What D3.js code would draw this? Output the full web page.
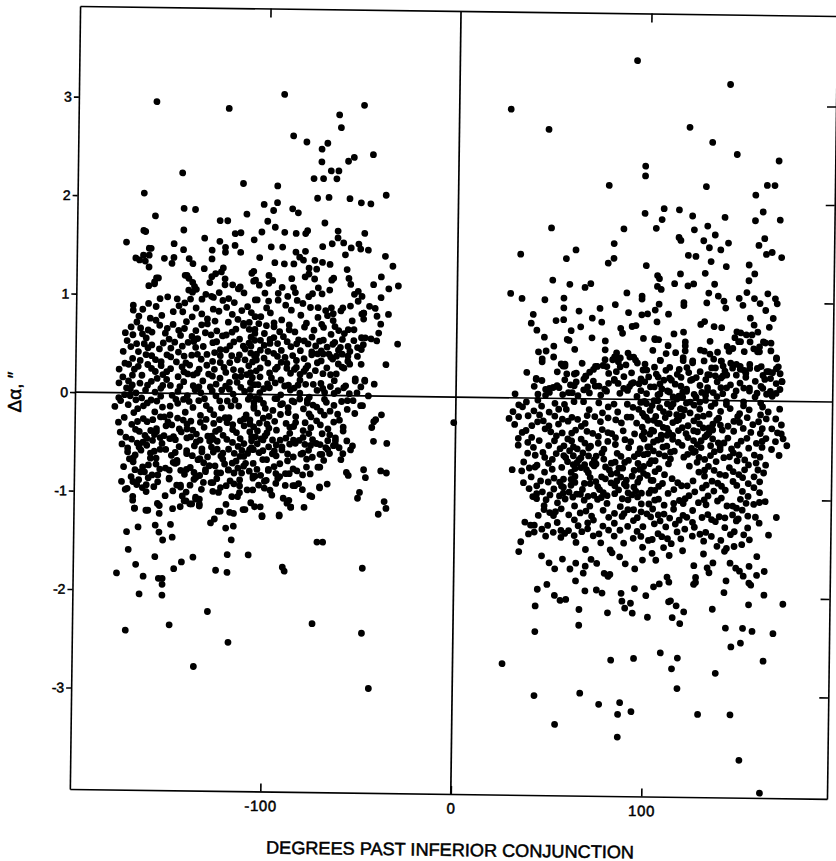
<!DOCTYPE html>
<html>
<head>
  <meta charset="UTF-8">
  <title>Delta alpha vs degrees past inferior conjunction</title>
  <style>
    body { margin: 0; background: #fff; }
    text { font-family: "Liberation Sans", Arial, sans-serif; }
  </style>
</head>
<body>
<svg></svg>
<script src="https://d3js.org/d3.v7.min.js"></script>
<script>
    // ticks
    let xTicks = [-100, 0, 100];
    let xTopTicks = [-100, 100];
    let yTicks = [3, 2, 1, 0, -1, -2, -3];
    let yRightTicks = [3, 2, 1, -1, -2, -3];

    // residuals before inferior conjunction: [degrees, delta alpha in arcsec]
    let westDots = [
      [-159,2.96],[-121,2.90],[-92,3.05],[-50,2.95],[-63,2.85],[-62,2.72],[-87,2.63],[-80,2.57],[-69,2.56],[-72,2.50],
      [-72,2.37],[-55,2.42],[-58,2.38],[-45,2.45],[-67,2.28],[-63,2.28],[-64,2.20],[-76,2.20],[-71,2.20],[-145,2.24],
      [-113,2.14],[-95,2.12],[-165,2.03],[-38,2.04],[-74,2.00],[-68,2.01],[-57,2.00],[-51,1.96],[-46,1.95],[-144,1.88],
      [-138,1.87],[-102,1.93],[-95,1.95],[-97,1.87],[-87,1.89],[-84,1.85],[-111,1.83],[-159,1.80],[-125,1.76],[-121,1.76],
      [-100,1.76],[-70,1.75],[-96,1.70],[-91,1.65],[-85,1.64],[-63,1.67],[-63,1.60],[-79,1.67],[-80,1.64],[-117,1.63],
      [-114,1.64],[-144,1.66],[-165,1.65],[-103,1.65],[-49,1.65],[-174,1.53],[-133,1.58],[-125,1.55],[-149,1.52],[-144,1.46],
      [-129,1.46],[-122,1.49],[-122,1.44],[-117,1.51],[-114,1.44],[-98,1.50],[-92,1.50],[-85,1.45],[-83,1.40],[-80,1.46],
      [-71,1.51],[-66,1.54],[-60,1.55],[-56,1.50],[-51,1.49],[-52,1.54],[-47,1.48],[-38,1.42],[-34,1.32],[-59,1.43],
      [-162,1.47],[-162,1.40],[-165,1.40],[-169,1.37],[-154,1.37],[-149,1.38],[-150,1.32],[-141,1.37],[-139,1.32],[-133,1.27],
      [-129,1.37],[-123,1.28],[-104,1.39],[-96,1.34],[-91,1.33],[-86,1.33],[-81,1.37],[-78,1.29],[-75,1.37],[-74,1.28],
      [-71,1.35],[-67,1.33],[-58,1.28],[-57,1.19],[-56,1.13],[-40,1.21],[-44,1.13],[-36,1.09],[-31,1.12],[-40,1.00],
      [-52,1.06],[-50,1.01],[-66,1.17],[-65,1.19],[-67,1.07],[-158,1.17],[-159,1.13],[-162,1.09],[-143,1.20],[-141,1.17],
      [-138,1.09],[-139,1.03],[-129,1.19],[-127,1.22],[-130,1.13],[-124,1.24],[-129,0.99],[-122,1.11],[-114,1.09],[-112,1.03],
      [-108,1.23],[-106,1.16],[-104,1.11],[-101,1.03],[-99,1.21],[-97,1.16],[-99,1.13],[-92,1.09],[-94,1.03],[-90,0.91],
      [-87,1.18],[-86,1.09],[-85,1.04],[-80,1.20],[-78,1.23],[-75,1.18],[-73,1.09],[-76,1.03],[-71,1.03],[-36,0.83],
      [-31,0.53],[-37,0.32],[-42,0.56],[-45,0.58],[-48,0.59],[-41,0.64],[-40,0.73],[-42,0.81],[-43,0.89],[-46,0.91],
      [-49,0.84],[-53,0.17],[-48,0.16],[-43,0.12],[-46,0.00],[-49,-0.10],[-42,-0.24],[-54,0.56],[-50,0.47],[-56,0.45],
      [-52,0.40],[-50,0.32],[-57,0.50],[-60,0.42],[-57,0.35],[-59,0.28],[-62,0.32],[-65,0.52],[-70,0.56],[-67,0.42],
      [-71,0.45],[-65,0.37],[-65,0.83],[-61,0.86],[-65,0.76],[-69,0.86],[-73,0.89],[-54,1.03],[-52,0.96],[-55,0.76],
      [-57,0.67],[-54,0.67],[-59,0.63],[-49,0.84],[-49,0.78],
      [-164,1.64],[-107,1.57],[-167,1.35],[-164,1.34],[-161,1.47],[-162,1.28],[-157,1.17],[-159,1.11],[-142,1.20],[-139,1.13],
      [-122,1.17],[-118,1.11],[-115,1.07],[-107,1.25],[-107,1.15],
      [-170,0.89],[-162,0.91],[-156,0.96],[-152,0.98],[-147,0.96],[-146,0.89],[-141,1.05],[-137,1.06],[-140,0.96],[-134,0.96],
      [-132,1.01],[-128,0.98],[-125,1.03],[-123,0.95],[-121,0.88],[-117,0.93],[-110,0.89],[-106,0.96],
      [-170,0.84],[-167,0.78],[-161,0.76],[-156,0.69],[-155,0.79],[-149,0.83],[-144,0.83],[-142,0.73],[-139,0.78],[-134,0.81],
      [-131,0.76],[-128,0.86],[-125,0.84],[-120,0.73],[-118,0.81],[-115,0.76],[-109,0.73],[-106,0.79],[-171,0.67],[-162,0.64],
      [-170,0.59],[-163,0.56],[-160,0.49],[-156,0.45],[-152,0.39],[-148,0.52],[-145,0.59],[-141,0.52],[-136,0.56],[-132,0.62],
      [-128,0.52],[-127,0.42],[-123,0.59],[-119,0.49],[-114,0.56],[-111,0.46],[-106,0.62],[-106,0.39],[-175,0.42],[-167,0.42],
      [-163,0.39],[-139,0.39],[-134,0.35],[-118,0.39],
      [-172,0.29],[-169,0.24],[-165,0.18],[-162,0.29],[-158,0.22],[-155,0.32],[-150,0.25],[-147,0.32],[-143,0.22],[-140,0.29],
      [-135,0.25],[-131,0.29],[-128,0.18],[-124,0.32],[-121,0.22],[-117,0.25],[-113,0.18],[-109,0.29],[-172,0.12],
      [-170,0.08],[-168,0.00],[-165,-0.05],[-162,0.08],[-158,0.01],[-154,0.08],[-149,-0.02],[-145,0.07],[-141,-0.02],[-138,0.08],
      [-134,0.01],[-129,0.07],[-126,-0.02],[-121,0.08],[-117,0.00],[-113,0.07],[-108,-0.02],[-174,-0.02],
      [-172,-0.12],[-167,-0.16],[-162,-0.10],[-158,-0.19],[-154,-0.14],[-150,-0.22],[-146,-0.10],[-142,-0.19],[-138,-0.14],[-134,-0.22],
      [-131,-0.12],[-127,-0.21],[-123,-0.14],[-119,-0.24],[-114,-0.12],[-110,-0.21],[-106,-0.14],
      [-170,-0.32],[-166,-0.39],[-162,-0.29],[-157,-0.36],[-153,-0.43],[-149,-0.32],[-144,-0.39],[-141,-0.31],[-136,-0.41],[-132,-0.34],
      [-128,-0.43],[-124,-0.36],[-120,-0.29],[-115,-0.39],[-111,-0.32],[-107,-0.43],
      [-172,-0.56],[-168,-0.63],[-162,-0.53],[-158,-0.59],[-154,-0.51],[-149,-0.63],[-145,-0.54],[-141,-0.61],[-137,-0.53],[-133,-0.59],
      [-128,-0.54],[-123,-0.63],[-119,-0.56],[-114,-0.53],[-111,-0.63],[-107,-0.54],
      [-169,-0.70],[-165,-0.80],[-161,-0.73],[-156,-0.83],[-152,-0.76],[-147,-0.71],[-142,-0.82],[-139,-0.75],[-134,-0.83],[-129,-0.73],
      [-125,-0.80],[-121,-0.71],[-116,-0.80],[-111,-0.73],[-106,-0.83],
      [-172,-0.97],[-167,-0.93],[-162,-1.00],[-156,-0.90],[-152,-1.04],[-146,-0.93],[-141,-1.00],[-136,-1.07],[-132,-0.90],[-127,-0.99],
      [-120,-0.93],[-114,-1.04],[-109,-0.97],
      [-168,-1.17],[-162,-1.19],[-156,-1.12],[-148,-1.17],[-142,-1.09],[-138,-1.12],[-134,-1.14],[-123,-1.19],[-118,-1.20],[-111,-1.17],
      [-107,-1.10],
      [-168,0.50],[-160,0.62],[-151,0.55],[-143,0.66],[-134,0.70],[-126,0.64],[-118,0.63],[-112,0.70],[-103,0.55],[-96,0.58],
      [-88,0.66],[-80,0.55],[-170,0.35],[-162,0.46],[-155,0.28],[-146,0.42],[-137,0.47],[-131,0.40],[-124,0.45],[-114,0.40],
      [-107,0.33],[-99,0.44],[-90,0.38],[-84,0.28],[-76,0.44],[-175,0.16],[-166,0.10],[-157,0.15],[-150,0.08],[-141,0.20],
      [-133,0.13],[-127,0.25],[-119,0.12],[-110,0.20],[-104,0.10],[-95,0.26],[-88,0.10],[-80,0.24],[-70,0.22],[-176,-0.08],
      [-169,-0.20],[-160,-0.07],[-153,-0.24],[-147,-0.06],[-139,-0.28],[-132,-0.05],[-127,-0.30],[-120,-0.07],[-113,-0.27],[-105,-0.04],
      [-99,-0.30],[-92,-0.10],[-84,-0.28],[-78,-0.08],[-68,-0.07],[-173,-0.45],[-164,-0.50],[-155,-0.45],[-146,-0.70],[-139,-0.44],
      [-134,-0.66],[-125,-0.48],[-117,-0.70],[-111,-0.50],[-102,-0.45],[-94,-0.62],[-87,-0.50],[-79,-0.50],[-70,-0.60],[-63,-0.50],
      [-166,-0.88],[-150,-0.86],[-144,-0.95],[-128,-0.90],[-118,-0.88],[-100,-0.95],[-82,-0.90],[-60,-0.65],[-55,-0.55],
      [-172,-0.60],[-169,-0.66],[-170,-0.85],[-169,-0.90],[-173,-0.98],[-169,-1.05],[-169,-1.09],[-168,-1.17],[-161,-1.19],[-155,-1.14],
      [-155,-1.22],[-144,-1.15],[-139,-1.12],[-134,-1.12],[-134,-1.07],[-136,-1.05],[-143,-1.04],[-141,-1.09],[-128,-1.31],[-126,-1.27],
      [-124,-1.19],[-120,-1.12],[-120,-1.36],[-116,-1.34],[-117,-1.48],[-116,-1.21],[-110,-1.17],[-102,-1.14],[-101,-1.24],[-92,-1.23],
      [-90,-1.05],[-88,-1.10],[-86,-1.14],[-79,-1.14],[-75,-1.03],[-71,-0.94],[-72,-1.49],[-69,-1.49],[-50,-0.98],[-51,-1.04],
      [-37,-1.07],[-36,-1.14],[-40,-1.20],[-48,-0.75],[-47,-0.83],[-39,-0.76],[-36,-0.78],[-57,-0.78],[-56,-0.81],[-43,-0.46],
      [-36,-0.48],[-57,-0.46],[-54,-0.51],[-59,-0.59],[-172,-1.41],[-166,-1.36],[-157,-1.34],[-155,-1.41],[-153,-1.49],[-149,-1.33],
      [-148,-1.46],[-171,-1.59],[-167,-1.74],[-157,-1.66],[-163,-1.86],[-155,-1.88],[-153,-1.88],[-153,-1.94],[-177,-1.83],[-165,-2.04],
      [-153,-2.05],[-147,-1.78],[-143,-1.71],[-137,-1.66],[-125,-1.79],[-119,-1.63],[-119,-1.81],[-108,-1.63],[-90,-1.75],[-89,-1.79],
      [-48,-1.75],[-129,-2.21],[-149,-2.35],[-172,-2.41],[-118,-2.52],[-74,-2.32],[-48,-2.41],[-136,-2.77],[-44,-2.97],
      [-167,-0.51],[-162,-0.46],[-157,-0.39],[-152,-0.33],[-148,-0.44],[-141,-0.36],[-136,-0.49],[-133,-0.56],[-127,-0.46],[-122,-0.60],
      [-117,-0.49],[-113,-0.63],[-106,-0.56],[-101,-0.46],[-96,-0.60],[-91,-0.53],[-85,-0.46],[-81,-0.60],[-76,-0.51],[-71,-0.60],
      [-67,-0.55],[-63,-0.46],[-59,-0.36],[-164,-0.75],[-159,-0.83],[-162,-0.93],[-157,-0.66],[-148,-0.70],[-150,-0.87],[-144,-0.93],
      [-141,-0.77],[-136,-0.85],[-131,-0.77],[-127,-0.90],[-123,-0.80],[-119,-0.77],[-113,-0.93],[-112,-0.80],[-106,-0.85],[-100,-0.88],
      [-98,-0.77],[-93,-0.85],[-87,-0.80],[-85,-0.92],[-78,-0.73],[-72,-0.73],[-110,-0.70],[-124,-1.00],[-117,-1.04],[-113,-1.00],
      [-106,-0.97],[-96,-1.02],
      [-78,1.00],[-84,0.96],[-89,1.00],[-94,0.96],[-99,0.95],[-105,0.96],[-66,0.89],[-60,0.89],[-56,0.91],[-50,0.83],
      [-108,0.83],[-103,0.79],[-98,0.83],[-92,0.76],[-87,0.86],[-82,0.81],[-77,0.89],[-73,0.79],[-68,0.81],[-106,0.66],
      [-101,0.62],[-96,0.69],[-91,0.59],[-85,0.64],[-80,0.69],[-76,0.59],[-70,0.69],[-66,0.62],[-62,0.66],[-60,0.57],
      [-50,0.59],[-108,0.49],[-103,0.45],[-98,0.52],[-92,0.45],[-87,0.49],[-82,0.45],[-78,0.52],[-73,0.42],[-68,0.49],
      [-61,0.49],[-57,0.40],[-56,0.32],[-49,0.52],[-52,0.49],[-105,0.35],[-99,0.32],[-94,0.39],[-89,0.32],[-84,0.35],
      [-78,0.30],[-71,0.35],[-66,0.39],[-63,0.22],[-60,0.29],[-64,0.15],[-59,0.08],[-108,0.22],[-103,0.18],[-98,0.22],
      [-92,0.15],[-87,0.22],[-82,0.15],[-77,0.20],[-71,0.12],[-69,0.03],[-64,0.02],[-53,0.15],[-48,0.15],[-52,0.03],
      [-56,0.02],[-108,0.05],[-103,0.02],[-98,0.07],[-92,0.00],[-87,0.05],[-82,0.02],[-77,-0.02],[-73,0.05],[-106,-0.12],
      [-101,-0.09],[-96,-0.16],[-91,-0.09],[-85,-0.07],[-80,-0.14],[-75,-0.10],[-71,-0.16],[-76,-0.22],[-66,-0.16],[-62,-0.19],
      [-57,-0.14],[-50,-0.10],[-39,-0.19],[-43,-0.26],[-44,-0.32],[-108,-0.26],[-103,-0.29],[-98,-0.22],[-94,-0.36],[-89,-0.29],
      [-84,-0.22],[-80,-0.36],[-73,-0.26],[-64,-0.27],[-70,-0.39],[-105,-0.43],[-99,-0.39],[-92,-0.46],[-87,-0.39],[-82,-0.46],
      [-77,-0.39],[-73,-0.49],[-67,-0.46],[-63,-0.43],[-61,-0.53],[-108,-0.56],[-103,-0.59],[-98,-0.53],[-91,-0.56],[-85,-0.63],
      [-80,-0.59],[-75,-0.63],[-71,-0.73],[-66,-0.59],[-106,-0.70],[-101,-0.66],[-98,-0.76],[-92,-0.70],[-89,-0.80],[-85,-0.75],
      [-99,-0.87],[-105,-0.83],[-84,-0.92],[-89,-0.92],[-97,-0.97],[-76,-1.02],[-71,-0.93],[-105,-1.14],[-101,-1.23],[-92,-1.22],
      [-87,-1.07],[-86,-1.14],[-94,-0.80],
      [-168,0.72],[-158,0.74],[-149,0.70],[-131,0.71],[-127,0.74],[-112,0.72],[-165,0.60],[-153,0.61],[-139,0.58],[-121,0.60],
      [-108,0.58],[-171,0.47],[-150,0.46],[-133,0.48],[-121,0.45],[-112,0.49],[-166,0.33],[-158,0.34],[-142,0.31],[-128,0.33],
      [-119,0.32],[-111,0.35],[-170,0.18],[-154,0.19],[-146,0.17],[-138,0.19],[-124,0.16],[-116,0.18],[-107,0.17],[-171,0.04],
      [-163,0.03],[-155,0.05],[-146,0.02],[-137,0.04],[-128,0.03],[-119,0.05],[-111,0.03],[-168,-0.07],[-157,-0.08],[-143,-0.06],
      [-135,-0.07],[-124,-0.07],[-116,-0.06],[-106,-0.08],[-174,-0.25],[-164,-0.26],[-155,-0.24],[-146,-0.25],[-131,-0.26],[-121,-0.24],
      [-111,-0.25],[-168,-0.37],[-160,-0.38],[-145,-0.36],[-138,-0.37],[-126,-0.38],[-117,-0.36],[-104,-0.37],[-170,-0.47],[-159,-0.48],
      [-150,-0.46],[-134,-0.47],[-129,-0.48],[-120,-0.46],[-107,-0.47],[-165,-0.58],[-152,-0.57],[-141,-0.58],[-127,-0.59],[-112,-0.57],
      [-171,-0.67],[-160,-0.66],[-146,-0.68],[-135,-0.67],[-122,-0.66],[-115,-0.68],[-168,-0.78],[-155,-0.77],[-144,-0.78],[-131,-0.79],
      [-119,-0.77],[-108,-0.78],[-161,-0.86],[-137,-0.87],[-125,-0.86],[-113,-0.87],
      [-104,0.72],[-96,0.73],[-88,0.71],[-79,0.73],[-71,0.72],[-106,0.55],[-98,0.56],[-89,0.54],[-83,0.56],[-72,0.55],
      [-64,0.54],[-105,0.41],[-96,0.42],[-86,0.40],[-76,0.41],[-70,0.42],[-103,0.27],[-94,0.28],[-85,0.26],[-79,0.27],
      [-68,0.28],[-106,0.10],[-99,0.11],[-90,0.09],[-83,0.10],[-75,0.11],[-66,0.09],[-58,0.10],[-50,0.09],[-103,-0.05],
      [-95,-0.04],[-86,-0.06],[-78,-0.05],[-69,-0.04],[-60,-0.06],[-54,-0.05],[-104,-0.19],[-92,-0.20],[-88,-0.18],[-77,-0.19],
      [-69,-0.20],[-53,-0.18],[-106,-0.33],[-98,-0.34],[-85,-0.32],[-76,-0.33],[-67,-0.34],[-59,-0.32],[-104,-0.50],[-94,-0.51],
      [-84,-0.49],[-71,-0.50],[-64,-0.51],[-99,-0.66],[-88,-0.67],[-78,-0.65],[-69,-0.66],[-102,-0.82],[-92,-0.83],[-80,-0.81],
      [-165,0.85],[-158,0.88],[-143,0.92],[-137,0.87],[-120,0.97],[-113,0.85],[-100,0.88],[-81,0.93],
      [-174,0.61],[-166,0.66],[-152,0.66],[-146,0.64],[-137,0.64],[-129,0.60],[-116,0.66],[-109,0.66],[-100,0.70],[-93,0.64],
      [-75,0.66],[-64,0.70],[-173,0.53],[-164,0.50],[-154,0.51],[-144,0.48],[-138,0.53],[-126,0.53],[-117,0.53],[-109,0.52],
      [-101,0.50],[-94,0.52],[-84,0.52],[-74,0.50],[-62,0.46],[-174,0.30],[-160,0.38],[-150,0.37],[-143,0.38],[-136,0.40],
      [-124,0.39],[-115,0.35],[-108,0.42],[-101,0.37],[-92,0.33],[-80,0.37],[-73,0.33],[-63,0.40],[-177,0.24],[-167,0.27],
      [-160,0.25],[-152,0.22],[-144,0.27],[-136,0.21],[-130,0.20],[-122,0.27],[-113,0.24],[-105,0.24],[-97,0.17],[-89,0.27],
      [-82,0.21],[-74,0.25],[-66,0.21],[-177,0.10],[-173,0.05],[-160,0.12],[-152,0.14],[-143,0.12],[-135,0.07],[-126,0.10],
      [-123,0.04],[-115,0.12],[-108,0.12],[-101,0.06],[-95,0.12],[-85,0.07],[-79,0.11],[-70,0.07],[-62,0.05],[-179,-0.14],
      [-171,-0.03],[-164,-0.13],[-155,-0.03],[-150,-0.13],[-140,-0.08],[-129,-0.16],[-118,-0.12],[-109,-0.05],[-100,-0.14],[-94,-0.04],
      [-88,-0.13],[-82,-0.04],[-73,-0.12],[-64,-0.10],[-57,-0.05],[-177,-0.30],[-167,-0.29],[-159,-0.27],[-151,-0.29],[-143,-0.27],
      [-134,-0.29],[-124,-0.26],[-117,-0.31],[-108,-0.30],[-101,-0.24],[-95,-0.27],[-87,-0.33],[-79,-0.28],[-71,-0.30],[-61,-0.25],
      [-176,-0.40],[-163,-0.43],[-158,-0.42],[-147,-0.47],[-141,-0.45],[-130,-0.43],[-122,-0.42],[-113,-0.45],[-108,-0.38],[-100,-0.42],
      [-96,-0.46],[-89,-0.44],[-80,-0.43],[-75,-0.45],[-66,-0.40],[-175,-0.52],[-166,-0.55],[-160,-0.61],[-155,-0.57],[-147,-0.60],
      [-138,-0.63],[-130,-0.64],[-125,-0.56],[-116,-0.60],[-109,-0.60],[-101,-0.57],[-95,-0.57],[-88,-0.60],[-77,-0.56],[-68,-0.53],
      [-174,-0.75],[-163,-0.80],[-157,-0.72],[-150,-0.78],[-137,-0.80],[-132,-0.70],[-126,-0.73],[-114,-0.75],[-104,-0.76],[-95,-0.73],
      [-83,-0.77],[-76,-0.80],[-175,-0.90],[-164,-0.96],[-158,-0.95],[-148,-0.99],[-139,-0.93],[-133,-0.97],[-123,-0.95],[-116,-0.91],
      [-103,-0.92],[-94,-0.90],[-80,-0.96],[-67,-0.90],
      [-177,-0.05],[-1,-0.26]
    ];

    // residuals after inferior conjunction
    let eastDots = [
      [27,2.93],[47,2.73],[93,3.44],[142,3.21],[121,2.77],[133,2.62],[146,2.50],[168,2.44],[98,2.37],[98,2.27],
      [79,2.17],[130,2.17],[156,2.09],[162,2.19],[166,2.19],[49,1.73],[98,1.89],[108,1.94],[107,1.83],[104,1.74],
      [116,1.93],[123,1.87],[124,1.73],[131,1.77],[135,1.68],[140,1.86],[142,1.60],[129,1.62],[132,1.55],[138,1.53],
      [116,1.65],[117,1.62],[87,1.73],[82,1.58],[82,1.43],[79,1.38],[156,1.83],[160,1.92],[169,1.84],[161,1.65],
      [158,1.58],[162,1.49],[165,1.51],[170,1.46],[153,1.38],[156,1.29],[153,1.22],[152,1.10],[33,1.46],[57,1.42],
      [62,1.51],[50,1.20],[59,1.16],[67,1.13],[70,1.17],[99,1.36],[105,1.26],[106,1.23],[105,1.15],[107,1.12],
      [114,1.18],[117,1.28],[121,1.16],[124,1.18],[125,1.46],[121,1.47],[130,1.29],[135,1.18],[141,1.36],[133,1.41],
      [28,1.06],[34,1.01],[46,1.00],[56,1.02],[89,1.08],[83,0.96],[97,1.05],[97,1.02],[132,1.09],[137,1.06],
      [140,1.01],[141,0.94],[148,1.04],[150,0.97],[163,1.09],[167,1.04],[168,0.99],[159,0.99],[162,0.92],[156,1.04],
      [106,0.97],[104,0.91],[111,0.87],[119,0.99],[119,0.96],[131,0.99],[40,0.85],[39,0.76],[56,0.92],[64,0.89],
      [71,0.82],[75,0.92],[76,0.78],[90,0.88],[97,0.86],[100,0.87],[52,0.79],[56,0.80],[65,0.73],[60,0.69],
      [86,0.72],[87,0.67],[92,0.74],[94,0.75],[105,0.79],[114,0.67],[119,0.69],[130,0.80],[128,0.77],[135,0.75],
      [139,0.74],[147,0.70],[149,0.69],[146,0.64],[154,0.84],[156,0.77],[158,0.70],[155,0.67],[152,0.67],[164,0.75],
      [166,0.84],[42,0.69],[46,0.62],[71,0.62],[78,0.59],[98,0.62],[104,0.61],[106,0.61],[120,0.59],[120,0.55],
      [133,0.60],[142,0.55],[145,0.53],[149,0.60],[151,0.50],[156,0.53],[159,0.50],[161,0.60],[165,0.59],[168,0.44],
      [43,0.47],[47,0.48],[51,0.53],[51,0.42],[45,0.37],[58,0.60],[59,0.59],[62,0.50],[57,0.35],[56,0.33],
      [37,0.26],[42,0.19],[53,0.27],[47,0.09],[51,0.11],[53,0.13],[31,0.04],[62,0.25],[62,0.13],[67,0.20],
      [68,0.23],[73,0.13],[72,0.30],[74,0.33],[78,0.40],[79,0.33],[83,0.43],[85,0.38],[86,0.42],[90,0.47],
      [93,0.43],[95,0.37],[84,0.28],[88,0.23],[80,0.16],[83,0.20],[92,0.16],[97,0.21],[100,0.30],[104,0.33],
      [107,0.40],[110,0.47],[102,0.13],[107,0.16],[112,0.22],[116,0.26],[119,0.40],[121,0.33],[124,0.38],[130,0.50],
      [133,0.47],[135,0.42],[123,0.20],[126,0.23],[132,0.26],[134,0.33],[139,0.40],[140,0.35],[145,0.33],[147,0.37],
      [139,0.23],[142,0.26],[149,0.32],[152,0.28],[154,0.37],[158,0.33],[161,0.26],[163,0.30],[165,0.23],[168,0.33],
      [170,0.28],[171,0.20],[168,0.08],[132,0.13],[135,0.08],[142,0.13],[147,0.10],[154,0.13],[158,0.08],[161,0.13],
      [76,0.04],[79,0.08],[86,0.06],[90,0.09],[95,0.03],[100,0.06],[107,0.06],[111,0.09],[114,0.03],[119,0.08],
      [125,0.06],[121,0.09],[56,0.04],[61,0.06],[70,0.06],[67,0.09],[49,0.06],
      [45,0.40],[57,0.33],[63,0.26],[68,0.23],[73,0.33],[78,0.50],[84,0.47],[82,0.40],[86,0.33],[91,0.43],
      [94,0.40],[98,0.30],[101,0.23],[96,0.16],[91,0.13],[85,0.16],[75,0.13],[64,0.03],[59,0.06],[54,0.11],
      [49,0.10],[42,0.20],[47,0.03],[43,0.04],
      [148,0.60],[154,0.60],[159,0.55],[162,0.59],[158,0.50],[168,0.43],[169,0.35],[164,0.30],[160,0.35],[154,0.33],
      [149,0.35],[144,0.38],[139,0.40],[136,0.33],[133,0.26],[130,0.40],[124,0.40],[119,0.43],[115,0.48],[111,0.55],
      [104,0.62],[103,0.50],[107,0.40],[112,0.33],[105,0.26],[118,0.23],[124,0.21],[128,0.15],[121,0.11],[115,0.16],
      [109,0.20],[104,0.13],[112,0.08],[119,0.03],[126,0.03],[132,0.10],[139,0.13],[144,0.16],[149,0.18],[154,0.10],
      [160,0.15],[165,0.10],[168,0.18],[171,0.20],[140,0.25],[147,0.26],[104,-0.01],[114,-0.04],[128,-0.02],[142,-0.01],
      [151,-0.01],[160,-0.02],
      [28,-0.21],[30,-0.14],[35,-0.09],[38,-0.18],[41,-0.13],[45,-0.08],[49,-0.14],[43,-0.24],[49,-0.28],[54,-0.11],
      [56,-0.21],[58,-0.11],[64,-0.21],[70,-0.11],[73,-0.18],[77,-0.14],[80,-0.08],[85,-0.13],[87,-0.24],[77,-0.31],
      [82,-0.35],[66,-0.28],[72,-0.35],[61,-0.35],[56,-0.35],[47,-0.31],[40,-0.28],[35,-0.35],[33,-0.41],[38,-0.45],
      [44,-0.43],[49,-0.48],[52,-0.43],[57,-0.48],[61,-0.43],[64,-0.51],[68,-0.45],[71,-0.48],[75,-0.45],[80,-0.43],
      [84,-0.46],[89,-0.41],[94,-0.35],[98,-0.28],[101,-0.21],[103,-0.31],[92,-0.18],[98,-0.14],
      [33,-0.48],[42,-0.58],[46,-0.55],[51,-0.62],[57,-0.58],[62,-0.58],[65,-0.62],[70,-0.58],[73,-0.62],[77,-0.55],
      [82,-0.65],[87,-0.58],[91,-0.62],[96,-0.55],[101,-0.48],[103,-0.62],[99,-0.68],
      [30,-0.73],[35,-0.74],[42,-0.70],[47,-0.75],[43,-0.68],[56,-0.70],[61,-0.75],[57,-0.82],[66,-0.70],[70,-0.75],
      [73,-0.68],[77,-0.79],[81,-0.72],[85,-0.75],[90,-0.82],[94,-0.72],[99,-0.75],[103,-0.82],
      [39,-0.92],[43,-0.89],[46,-0.95],[49,-0.85],[52,-0.92],[56,-0.89],[60,-0.95],[63,-0.85],[67,-0.92],[70,-0.99],
      [75,-0.89],[78,-0.95],[82,-0.85],[86,-0.92],[91,-0.95],[94,-0.89],[98,-0.95],[103,-0.92],
      [43,-1.02],[47,-1.09],[50,-1.16],[54,-1.06],[58,-1.02],[63,-1.09],[66,-1.16],[71,-1.09],[75,-1.02],[80,-1.06],
      [84,-1.16],[87,-1.09],[91,-1.02],[94,-1.12],[98,-1.06],[101,-1.16],
      [37,-1.26],[40,-1.29],[42,-1.29],[49,-1.29],[52,-1.19],[54,-1.26],[56,-1.34],[63,-1.23],[65,-1.29],[70,-1.26],
      [73,-1.23],[78,-1.29],[84,-1.26],[88,-1.19],[91,-1.29],[94,-1.23],[99,-1.29],[103,-1.19],
      [35,-1.46],[34,-1.56],[42,-1.36],[52,-1.36],[56,-1.41],[63,-1.39],[64,-1.46],[69,-1.53],[73,-1.39],[77,-1.46],
      [82,-1.53],[84,-1.39],[89,-1.46],[94,-1.41],[99,-1.50],[102,-1.43],
      [46,-1.60],[50,-1.67],[53,-1.73],[57,-1.63],[61,-1.73],[64,-1.67],[69,-1.70],[72,-1.63],[75,-1.67],[79,-1.77],
      [83,-1.56],[87,-1.60],[90,-1.67],[95,-1.72],[99,-1.63],[104,-1.56],
      [44,-1.94],[49,-1.89],[53,-2.00],[64,-1.85],[69,-1.95],[75,-1.94],[78,-1.97],[82,-1.78],[88,-1.97],[95,-1.92],
      [101,-1.99],
      [102,-0.11],[107,-0.08],[112,-0.14],[118,-0.09],[123,-0.13],[128,-0.09],[133,-0.14],[139,-0.11],[144,-0.08],[149,-0.13],
      [154,-0.09],[160,-0.14],[164,-0.11],[168,-0.18],[171,-0.33],[174,-0.45],[168,-0.41],
      [104,-0.21],[109,-0.28],[114,-0.23],[119,-0.28],[125,-0.21],[130,-0.28],[135,-0.24],[140,-0.30],[146,-0.21],[151,-0.28],
      [156,-0.24],[161,-0.28],[166,-0.28],
      [102,-0.35],[106,-0.41],[111,-0.36],[117,-0.43],[122,-0.38],[127,-0.45],[132,-0.35],[138,-0.43],[143,-0.38],[148,-0.45],
      [153,-0.38],[158,-0.43],[163,-0.38],
      [104,-0.52],[110,-0.57],[115,-0.52],[120,-0.58],[125,-0.53],[131,-0.60],[136,-0.52],[141,-0.58],[146,-0.53],[152,-0.60],
      [157,-0.55],[163,-0.65],[159,-0.70],
      [102,-0.65],[107,-0.70],[112,-0.65],[123,-0.67],[128,-0.73],[133,-0.67],[139,-0.75],[144,-0.68],[149,-0.75],
      [154,-0.65],
      [104,-0.82],[109,-0.85],[114,-0.80],[119,-0.87],[125,-0.82],[130,-0.89],[135,-0.82],[140,-0.87],[146,-0.82],[151,-0.92],
      [154,-0.84],[160,-0.82],
      [102,-0.95],[107,-1.01],[112,-0.95],[118,-1.02],[123,-0.97],[128,-1.04],[133,-0.97],[138,-1.02],[143,-1.07],[148,-1.09],
      [153,-1.04],[154,-0.97],[163,-1.02],
      [104,-1.11],[110,-1.16],[115,-1.11],[120,-1.17],[125,-1.12],[130,-1.19],[135,-1.21],[142,-1.19],[146,-1.16],[151,-1.11],
      [154,-1.17],[169,-1.18],
      [105,-1.26],[111,-1.29],[116,-1.26],[121,-1.31],[126,-1.29],[132,-1.34],[142,-1.29],[147,-1.33],[154,-1.29],[165,-1.36],
      [109,-1.39],[114,-1.46],[119,-1.41],[125,-1.38],[129,-1.36],[138,-1.48],[143,-1.50],[147,-1.48],[151,-1.46],[110,-1.50],
      [106,-1.63],[113,-1.58],[120,-1.53],[126,-1.68],[131,-1.56],[136,-1.65],[145,-1.65],[148,-1.70],[155,-1.68],[159,-1.58],
      [163,-1.73],[112,-1.80],[113,-1.85],[127,-1.85],[134,-1.75],[143,-1.83],[142,-1.95],[155,-1.85],[163,-1.97],
      [156,-1.87],[142,-1.53],[150,-1.73],[152,-1.78],[159,-1.77],[127,-1.80],[126,-1.87],[133,-1.70],[114,-2.04],[105,-1.90],
      [108,-1.87],[81,-1.80],[56,-2.05],[59,-2.04],[68,-1.77],
      [43,-2.11],[66,-2.14],[81,-2.17],[88.5,-2.05],[93,-2.07],[90,-2.12],[94,-2.17],[102,-2.21],[113,-2.05],[117,-2.09],
      [121,-2.15],[115,-2.21],[119,-2.27],[136,-2.12],[155,-2.07],[173,-2.06],[43,-2.37],[66,-2.30],[143,-2.31],[152,-2.31],
      [157,-2.34],[168,-2.36],[146,-2.50],[151,-2.46],[26,-2.70],[83,-2.65],[95,-2.63],[109,-2.57],[118,-2.62],[115,-2.73],
      [138,-2.77],[163,-2.64],[118,-2.93],[43,-3.02],[67,-2.99],[77,-3.10],[88,-3.08],[87,-3.20],[94,-3.17],[129,-3.19],
      [146,-3.19],[54,-3.31],[87,-3.43],[151,-3.65],[162,-3.98],
      [37,-0.04],[52,-0.05],[62,-0.03],[75,-0.04],[90,-0.05],[97,-0.03],[33,-0.19],[44,-0.17],[52,-0.18],[61,-0.19],
      [69,-0.17],[80,-0.19],[90,-0.18],[99,-0.17],[37,-0.33],[50,-0.34],[63,-0.32],[69,-0.33],[80,-0.34],[88,-0.32],
      [99,-0.33],[41,-0.50],[55,-0.51],[62,-0.49],[70,-0.50],[78,-0.51],[91,-0.49],[97,-0.50],[36,-0.65],[49,-0.66],
      [59,-0.64],[64,-0.65],[72,-0.66],[84,-0.64],[96,-0.65],[40,-0.80],[52,-0.81],[63,-0.79],[71,-0.80],[79,-0.81],
      [87,-0.79],[97,-0.80],[43,-0.97],[50,-0.98],[57,-0.96],[64,-0.97],[73,-0.98],[84,-0.96],[93,-0.97],[47,-1.13],
      [56,-1.12],[69,-1.14],[78,-1.13],[91,-1.12],[98,-1.14],[46,-1.33],[60,-1.34],[70,-1.32],[81,-1.33],[96,-1.34],
      [55,0.35],[66,0.36],[77,0.34],[89,0.35],[99,0.36],[45,0.18],[57,0.19],[63,0.17],[72,0.18],[83,0.19],
      [93,0.17],[99,0.18],
      [106,0.05],[117,0.04],[131,0.05],[137,0.04],[146,0.05],[157,0.04],[166,0.05],[105,-0.17],[110,-0.18],[119,-0.16],
      [127,-0.17],[138,-0.18],[148,-0.16],[153,-0.17],[163,-0.18],[104,-0.32],[112,-0.33],[117,-0.31],[127,-0.32],[133,-0.33],
      [146,-0.31],[155,-0.32],[160,-0.33],[169,-0.32],[102,-0.48],[111,-0.47],[124,-0.49],[129,-0.48],[139,-0.47],[145,-0.49],
      [154,-0.48],[161,-0.47],[166,-0.49],[105,-0.62],[127,-0.63],[137,-0.62],[148,-0.61],[158,-0.63],[101,-0.77],
      [110,-0.76],[131,-0.77],[142,-0.76],[151,-0.78],[157,-0.77],[105,-0.92],[115,-0.91],[126,-0.93],[136,-0.92],
      [142,-0.91],[160,-0.93],[102,-1.06],[110,-1.07],[120,-1.05],[132,-1.06],[146,-1.07],[157,-1.05],[108,-1.23],[118,-1.22],
      [125,-1.24],[137,-1.23],[148,-1.22],[160,-1.24],[104,-1.42],[112,-1.41],[131,-1.43],[140,-1.42],[155,-1.41],
      [120,0.50],[128,0.51],[137,0.49],[143,0.50],[165,0.51],[110,0.30],[117,0.31],[128,0.29],[141,0.30],[151,0.31],
      [166,0.29],[113,0.20],[131,0.21],[137,0.19],[157,0.20],
      [58,0.25],[70,0.27],[80,0.26],[92,0.27],[106,0.23],[122,0.28],[136,0.25],[152,0.24],[162,0.22],
      [41,0.12],[60,0.14],[69,0.12],[78,0.10],[88,0.11],[97,0.09],[108,0.11],[118,0.14],[129,0.08],[140,0.07],
      [151,0.13],[163,0.07],[170,0.12],[33,-0.07],[43,-0.02],[57,-0.06],[67,-0.03],[83,-0.05],[93,-0.08],[100,-0.04],
      [111,-0.04],[121,-0.03],[134,-0.06],[142,-0.04],[151,-0.05],[161,-0.06],[170,-0.08],[31,-0.27],[46,-0.23],[54,-0.26],
      [59,-0.23],[68,-0.25],[76,-0.23],[84,-0.21],[95,-0.24],[107,-0.24],[116,-0.21],[122,-0.26],[133,-0.28],[143,-0.26],
      [149,-0.22],[159,-0.21],[171,-0.24],[40,-0.40],[53,-0.38],[59,-0.41],[66,-0.41],[75,-0.38],[84,-0.39],[92,-0.43],
      [99,-0.40],[108,-0.36],[114,-0.40],[125,-0.41],[135,-0.39],[141,-0.43],[150,-0.41],[161,-0.41],[172,-0.38],[38,-0.56],
      [47,-0.60],[53,-0.56],[60,-0.53],[67,-0.55],[74,-0.58],[85,-0.55],[94,-0.58],[99,-0.56],[107,-0.55],[113,-0.60],
      [122,-0.55],[128,-0.58],[134,-0.56],[144,-0.57],[149,-0.55],[160,-0.57],[170,-0.55],[39,-0.71],[51,-0.72],[63,-0.71],
      [68,-0.67],[79,-0.69],[88,-0.70],[97,-0.71],[105,-0.73],[131,-0.71],[136,-0.71],[146,-0.72],[152,-0.70],[162,-0.73],
      [36,-0.86],[45,-0.84],[55,-0.85],[61,-0.88],[68,-0.86],[74,-0.84],[84,-0.88],[89,-0.86],[96,-0.84],[107,-0.88],
      [117,-0.84],[122,-0.87],[132,-0.86],[138,-0.84],[148,-0.86],[157,-0.88],[41,-1.00],[48,-1.03],[55,-0.99],[62,-1.00],
      [68,-1.03],[77,-1.00],[88,-1.01],[96,-0.99],[105,-1.02],[115,-1.05],[121,-1.00],[131,-1.01],[140,-0.99],[150,-1.00],
      [160,-1.03],[44,-1.19],[53,-1.15],[60,-1.18],[72,-1.19],[81,-1.20],[89,-1.16],[96,-1.20],[107,-1.17],[113,-1.20],
      [122,-1.19],[133,-1.16],[139,-1.18],[149,-1.20],[158,-1.18],[39,-1.38],[48,-1.40],[58,-1.37],[67,-1.35],[76,-1.37],
      [87,-1.33],[98,-1.39],[107,-1.36],[117,-1.34],[135,-1.38],[145,-1.36],[152,-1.36],
      [99,-0.02],[103,-0.06],[109,-0.12],[113,-0.07],[116,-0.15],[120,-0.10],[125,-0.05],[130,-0.16],[136,-0.03],[137,-0.20],
      [100,-0.18],[106,-0.24],[111,-0.29],[117,-0.20],[121,-0.34],[128,-0.24],[131,-0.37],[135,-0.30],[139,-0.25],[98,-0.37],
      [104,-0.43],[109,-0.48],[114,-0.36],[119,-0.46],[125,-0.31],[129,-0.41],[134,-0.46],[139,-0.50],[101,-0.55],[113,-0.53],
      [106,-0.01],[116,0.01],[123,-0.02],[131,0.00],[96,-0.10],[108,-0.40],[126,-0.52],[118,-0.09],
      [58,-0.60],[62,-0.67],[66,-0.60],[69,-0.72],[74,-0.66],[78,-0.61],[82,-0.76],[86,-0.70],[89,-0.64],[93,-0.78],
      [57,-0.90],[61,-0.82],[66,-0.97],[71,-0.86],[76,-0.92],[80,-0.98],[85,-0.83],[90,-0.88],[95,-0.93]
    ];

    let width = 836, height = 861;

    let svg = d3.select("svg")
        .attr("width", width)
        .attr("height", height);

    let x = d3.scaleLinear().domain([-200, 197.5]).range([75, 832.2]);
    let y = d3.scaleLinear().domain([-4.03, 3.92]).range([794, 11]);

    // the printed figure was scanned a little askew
    let plot = svg.append("g")
        .attr("transform", "rotate(0.75," + x(0) + "," + y(0) + ")");

    let fmt = d => d < 0 ? "-" + Math.abs(d) : String(d);

    function styleAxis(g, size) {
        g.attr("font-family", null).attr("font-size", size);
        g.selectAll("path, line").attr("stroke", "#000").attr("stroke-width", 1.6);
        g.selectAll("text").attr("fill", "#000").attr("stroke", "#000").attr("stroke-width", 0.5);
    }

    plot.append("g")
        .attr("transform", "translate(" + x.range()[0] + ",0)")
        .call(d3.axisLeft(y).tickValues(yTicks).tickSizeInner(5).tickSizeOuter(0).tickPadding(2).tickFormat(fmt))
        .call(g => styleAxis(g, 14));

    plot.append("g")
        .attr("transform", "translate(0," + y.range()[0] + ")")
        .call(d3.axisBottom(x).tickValues(xTicks).tickSizeInner(-8).tickSizeOuter(0).tickPadding(9).tickFormat(fmt))
        .call(g => styleAxis(g, 15))
        .selectAll("text").attr("letter-spacing", "0.6px");

    plot.append("g")
        .attr("transform", "translate(0," + y.range()[1] + ")")
        .call(d3.axisTop(x).tickValues(xTopTicks).tickSizeInner(-9).tickSizeOuter(0).tickFormat(() => ""))
        .call(g => styleAxis(g, 14));

    plot.append("g")
        .attr("transform", "translate(" + x.range()[1] + ",0)")
        .call(d3.axisRight(y).tickValues(yRightTicks).tickSizeInner(-9).tickSizeOuter(0).tickFormat(() => ""))
        .call(g => styleAxis(g, 14));

    // zero lines
    plot.append("line")
        .attr("x1", x.range()[0]).attr("x2", x.range()[1])
        .attr("y1", y(0)).attr("y2", y(0))
        .attr("stroke", "#000").attr("stroke-width", 1.7);

    plot.append("line")
        .attr("x1", x(0)).attr("x2", x(0))
        .attr("y1", y.range()[0]).attr("y2", y.range()[1])
        .attr("stroke", "#000").attr("stroke-width", 1.7);

    // dots
    plot.append("g")
        .selectAll("circle")
        .data(westDots.concat(eastDots))
        .join("circle")
        .attr("cx", d => x(d[0]))
        .attr("cy", d => y(d[1]))
        .attr("r", 3.4)
        .attr("fill", "#000");

    // axis titles
    plot.append("text")
        .attr("x", x(0))
        .attr("y", 856)
        .attr("text-anchor", "middle")
        .attr("font-size", 18)
        .attr("stroke", "#000")
        .attr("stroke-width", 0.5)
        .attr("textLength", 368)
        .attr("lengthAdjust", "spacingAndGlyphs")
        .text("DEGREES PAST INFERIOR CONJUNCTION");

    svg.append("text")
        .attr("transform", "translate(21,392) rotate(-90)")
        .attr("text-anchor", "middle")
        .attr("font-size", 19)
        .attr("stroke", "#000")
        .attr("stroke-width", 0.5)
        .text("Δα, ″");
</script>

</body>
</html>
